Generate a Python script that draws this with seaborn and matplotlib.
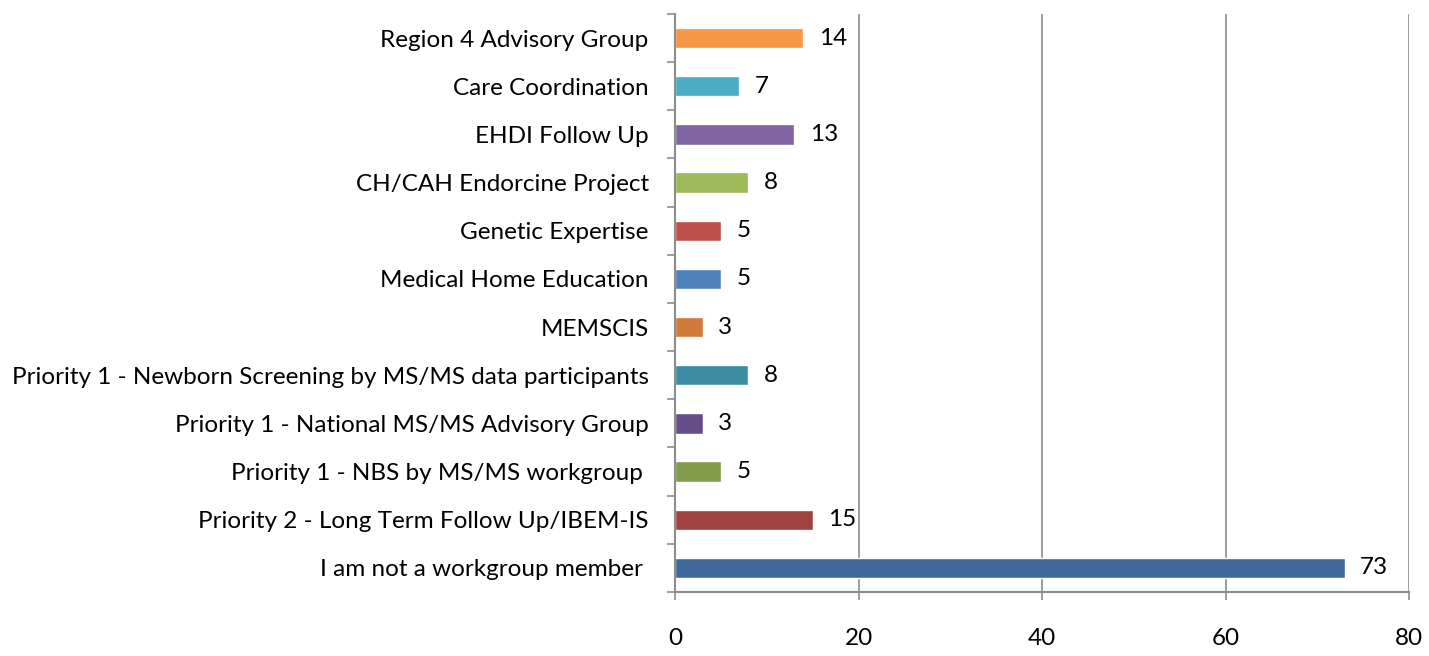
import seaborn as sns
import matplotlib.pyplot as plt
import pandas as pd
import numpy as np

# data
groups = [
    "Region 4 Advisory Group",
    "Care Coordination",
    "EHDI Follow Up",
    "CH/CAH Endorcine Project",
    "Genetic Expertise",
    "Medical Home Education",
    "MEMSCIS",
    "Priority 1 - Newborn Screening by MS/MS data participants",
    "Priority 1 - National MS/MS Advisory Group",
    "Priority 1 - NBS by MS/MS workgroup ",
    "Priority 2 - Long Term Follow Up/IBEM-IS",
    "I am not a workgroup member ",
]
counts = [14, 7, 13, 8, 5, 5, 3, 8, 3, 5, 15, 73]
colors = [
    "#F79646", "#4BACC6", "#8064A2", "#9BBB59", "#C0504D", "#4F81BD",
    "#D07B3A", "#3C8DA3", "#664E88", "#7F9C49", "#A04340", "#406A9C",
]

df = pd.DataFrame({"group": groups, "count": counts})

sns.set_style("white")
plt.rcParams["font.family"] = ["Lato", "DejaVu Sans"]
plt.rcParams["text.color"] = "black"
plt.rcParams["xtick.labelcolor"] = "black"
plt.rcParams["ytick.labelcolor"] = "black"

fs = 17.5

fig = plt.figure(figsize=(14.29, 6.56), dpi=100)
ax = fig.add_axes([0.4724, 0.0976, 0.986 - 0.4724, 0.9787 - 0.0976])

sns.barplot(data=df, x="count", y="group", hue="group", palette=colors,
            order=groups, hue_order=groups, width=0.42, legend=False,
            dodge=False, ax=ax, saturation=1)

for cont in ax.containers:
    ax.bar_label(cont, padding=11, fontsize=fs, color="black")

ax.set_xlim(0, 80)
ax.set_xticks([0, 20, 40, 60, 80])
ax.xaxis.grid(True, color="#8C8C8C", linewidth=1.2)
ax.set_axisbelow(True)
ax.set_xlabel("")
ax.set_ylabel("")

for s in ["top", "right"]:
    ax.spines[s].set_visible(False)
for s in ["left", "bottom"]:
    ax.spines[s].set_color("#8C8C8C")
    ax.spines[s].set_linewidth(1.5)

ax.tick_params(axis="x", which="major", direction="out", length=6, width=1.2,
               color="#8C8C8C", pad=20, labelsize=fs, bottom=True)
ax.tick_params(axis="y", which="major", length=0, pad=19, labelsize=fs)
ax.set_yticks(np.arange(-0.5, len(groups), 1), minor=True)
ax.tick_params(axis="y", which="minor", direction="out", length=6, width=1.2,
               color="#8C8C8C", left=True)

plt.savefig("out.png", dpi=100)
plt.close()
